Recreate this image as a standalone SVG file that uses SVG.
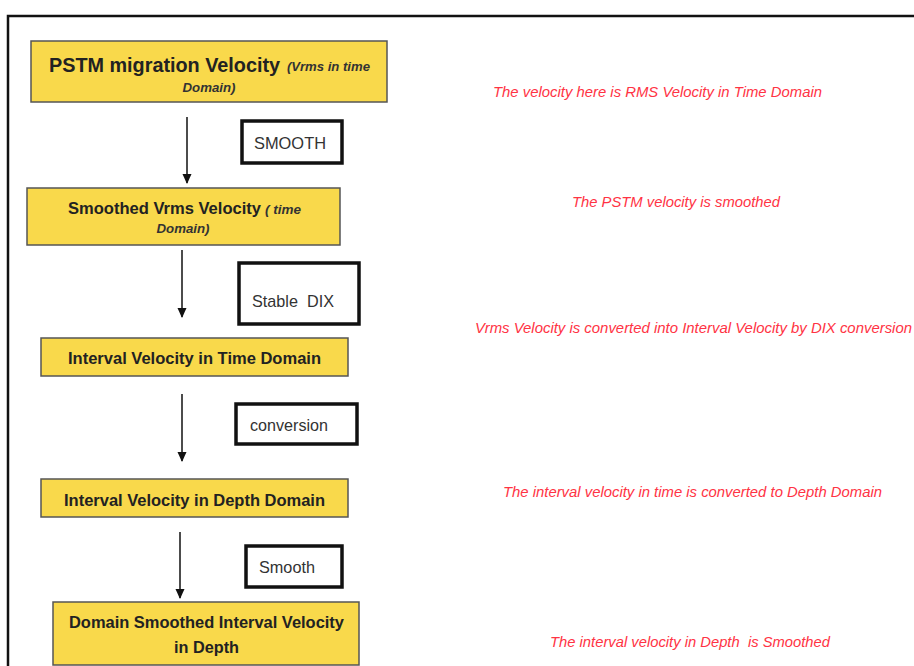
<svg xmlns="http://www.w3.org/2000/svg" width="914" height="666" viewBox="0 0 914 666">
<defs>
<marker id="ah" markerWidth="10" markerHeight="10" refX="9" refY="5" orient="auto" markerUnits="userSpaceOnUse">
<path d="M0,0.5 L10,5 L0,9.5 Z" fill="#111"/>
</marker>
<style>
.node{fill:#f9d94b;stroke:#555;stroke-width:1.5}
.nt{font-family:"Liberation Sans",Arial,sans-serif;font-weight:bold;fill:#222}
.ni{font-family:"Liberation Sans",Arial,sans-serif;font-weight:bold;font-style:italic;fill:#333}
.lab{fill:#fff;stroke:#111;stroke-width:3.5}
.lt{font-family:"Liberation Sans",Arial,sans-serif;fill:#333;font-size:17px}
.note{font-family:"Liberation Sans",Arial,sans-serif;font-style:italic;fill:#ff3344;font-size:14px}
.conn{stroke:#111;stroke-width:1.5;fill:none;marker-end:url(#ah)}
</style>
</defs>
<rect width="914" height="666" fill="#fff"/>
<path d="M8,666 V16 H914" fill="none" stroke="#111" stroke-width="2.5"/>

<g id="n1">
<rect class="node" x="31" y="41" width="356" height="61"/>
<text class="nt" x="49" y="72" font-size="20" textLength="231" lengthAdjust="spacingAndGlyphs">PSTM migration Velocity</text>
<text class="ni" x="287" y="71" font-size="12" textLength="83" lengthAdjust="spacingAndGlyphs">(Vrms in time</text>
<text class="ni" x="209" y="92" font-size="12" text-anchor="middle" textLength="53" lengthAdjust="spacingAndGlyphs">Domain)</text>
</g>

<g id="n2">
<rect class="node" x="27" y="188" width="313" height="57"/>
<text class="nt" x="68" y="214" font-size="16" textLength="193" lengthAdjust="spacingAndGlyphs">Smoothed Vrms Velocity</text>
<text class="ni" x="265" y="214" font-size="12" textLength="36" lengthAdjust="spacingAndGlyphs">( time</text>
<text class="ni" x="183" y="233" font-size="12" text-anchor="middle" textLength="53" lengthAdjust="spacingAndGlyphs">Domain)</text>
</g>

<g id="n3">
<rect class="node" x="41" y="338" width="307" height="38"/>
<text class="nt" x="68" y="364" font-size="16" textLength="253" lengthAdjust="spacingAndGlyphs">Interval Velocity in Time Domain</text>
</g>

<g id="n4">
<rect class="node" x="41" y="479" width="307" height="38"/>
<text class="nt" x="64" y="506" font-size="16" textLength="261" lengthAdjust="spacingAndGlyphs">Interval Velocity in Depth Domain</text>
</g>

<g id="n5">
<rect class="node" x="53" y="602" width="306" height="63"/>
<text class="nt" x="69" y="628" font-size="16" textLength="275" lengthAdjust="spacingAndGlyphs">Domain Smoothed Interval Velocity</text>
<text class="nt" x="174" y="653" font-size="16" textLength="65" lengthAdjust="spacingAndGlyphs">in Depth</text>
</g>

<g id="connectors">
<line class="conn" x1="187" y1="117" x2="187" y2="183"/>
<line class="conn" x1="182" y1="250" x2="182" y2="317"/>
<line class="conn" x1="182" y1="394" x2="182" y2="461"/>
<line class="conn" x1="180" y1="532" x2="180" y2="598"/>
</g>

<g id="l1">
<rect class="lab" x="242" y="121" width="100" height="42"/>
<text class="lt" x="254" y="149" textLength="72" lengthAdjust="spacingAndGlyphs">SMOOTH</text>
</g>
<g id="l2">
<rect class="lab" x="239" y="263" width="120" height="61"/>
<text class="lt" x="252" y="307" textLength="82" lengthAdjust="spacingAndGlyphs" xml:space="preserve">Stable  DIX</text>
</g>
<g id="l3">
<rect class="lab" x="236" y="404" width="121" height="40"/>
<text class="lt" x="250" y="431" textLength="78" lengthAdjust="spacingAndGlyphs">conversion</text>
</g>
<g id="l4">
<rect class="lab" x="246" y="546" width="96" height="41"/>
<text class="lt" x="259" y="573" textLength="56" lengthAdjust="spacingAndGlyphs">Smooth</text>
</g>

<g id="notes">
<text class="note" x="493" y="97" textLength="329" lengthAdjust="spacingAndGlyphs">The velocity here is RMS Velocity in Time Domain</text>
<text class="note" x="572" y="207" textLength="208" lengthAdjust="spacingAndGlyphs">The PSTM velocity is smoothed</text>
<text class="note" x="475" y="333" textLength="437" lengthAdjust="spacingAndGlyphs">Vrms Velocity is converted into Interval Velocity by DIX conversion</text>
<text class="note" x="503" y="497" textLength="379" lengthAdjust="spacingAndGlyphs">The interval velocity in time is converted to Depth Domain</text>
<text class="note" x="550" y="647" textLength="280" lengthAdjust="spacingAndGlyphs" xml:space="preserve">The interval velocity in Depth  is Smoothed</text>
</g>
</svg>
